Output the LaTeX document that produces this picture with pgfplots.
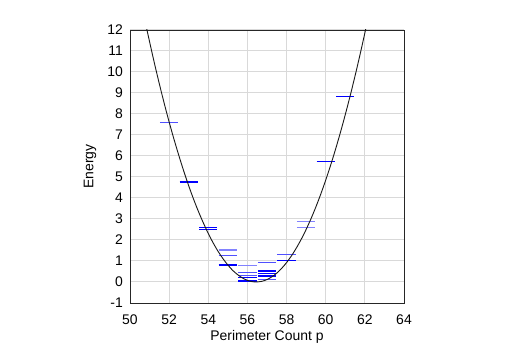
\documentclass[border=0pt]{standalone}
\usepackage{pgfplots}
\pgfplotsset{compat=1.18}
\usepackage{fontspec}
\setmainfont{Liberation Sans}

\definecolor{lvlblue}{RGB}{0,0,255}
\definecolor{midblue}{RGB}{80,80,255}
\definecolor{lightblue}{RGB}{130,130,255}

\begin{document}
\begin{tikzpicture}
\useasboundingbox (0,0) rectangle (510bp,355bp);
\begin{axis}[
    at={(130bp,52bp)}, anchor=south west,
    width=274bp, height=273bp, scale only axis,
    xmin=50, xmax=64, ymin=-1, ymax=12,
    xtick={50,52,...,64},
    ytick={-1,0,...,12},
    major tick length=0pt,
    grid=major,
    grid style={black!15, line width=1bp},
    axis line style={black!85, line width=0.9bp},
    font=\fontsize{14}{16}\selectfont,
    /pgf/number format/assume math mode=true,
    xticklabel style={anchor=north, inner sep=0pt, yshift=-12bp},
    yticklabel style={anchor=east, inner sep=0pt, xshift=-7bp},
    xlabel={Perimeter Count p},
    ylabel={Energy},
    xlabel style={at={(axis description cs:0.5,-0.1245)}, anchor=center},
    ylabel style={at={(axis description cs:-0.146,0.5)}, anchor=center},
    unbounded coords=jump,
    clip=true,
]

% light level dashes
\addplot[draw=lightblue, line width=1.3bp]
coordinates{
    (54.53,1.52) (55.47,1.52) (55,nan)
    (55.53,0.77) (56.47,0.77) (56,nan)
    (58.53,2.88) (59.47,2.88) (59,nan)
    (58.53,2.60) (59.47,2.60)
};

% medium level dashes
\addplot[draw=midblue, line width=1.3bp]
coordinates{
    (51.53,7.60) (52.47,7.60) (52,nan)
    (54.53,1.25) (55.47,1.25) (55,nan)
    (55.53,0.46) (56.47,0.46) (56,nan)
    (55.53,0.30) (56.47,0.30) (56,nan)
    (56.53,0.94) (57.47,0.94) (57,nan)
    (56.53,0.13) (57.47,0.13) (57,nan)
    (57.53,1.32) (58.47,1.32)
};

% plain level dashes
\addplot[draw=lvlblue, line width=1.1bp]
coordinates{
    (53.53,2.59) (54.47,2.59) (54,nan)
    (53.53,2.48) (54.47,2.48) (54,nan)
    (59.53,5.75) (60.47,5.75) (60,nan)
    (60.53,8.85) (61.47,8.85) (61,nan)
    (56.53,0.40) (57.47,0.40) (57,nan)
    (55.53,0.20) (56.47,0.20)
};

% strong level dashes
\addplot[draw=lvlblue, line width=1.8bp]
coordinates{
    (52.53,4.76) (53.47,4.76) (53,nan)
    (54.53,0.82) (55.47,0.82) (55,nan)
    (55.53,0.05) (56.47,0.05) (56,nan)
    (56.53,0.53) (57.47,0.53) (57,nan)
    (56.53,0.28) (57.47,0.28) (57,nan)
    (57.53,1.02) (58.47,1.02)
};

% fitted curve
\addplot[smooth, black!90, line width=0.9bp]
coordinates{
    (50.80,12.29) (51.00,11.44) (51.25,10.41) (51.50,9.43) (51.75,8.50)
    (52.00,7.62) (52.25,6.79) (52.50,6.01) (52.75,5.27) (53.00,4.58)
    (53.25,3.94) (53.50,3.35) (53.75,2.81) (54.00,2.31) (54.25,1.86)
    (54.50,1.46) (54.75,1.11) (55.00,0.81) (55.25,0.55) (55.50,0.35)
    (55.75,0.19) (56.00,0.078) (56.25,0.015) (56.45,0.0) (56.75,0.035)
    (57.00,0.116) (57.25,0.246) (57.50,0.424) (57.75,0.651) (58.00,0.925)
    (58.25,1.247) (58.50,1.618) (58.75,2.037) (59.00,2.503) (59.25,3.018)
    (59.50,3.581) (59.75,4.193) (60.00,4.852) (60.25,5.559) (60.50,6.315)
    (60.75,7.119) (61.00,7.971) (61.25,8.870) (61.50,9.819) (61.75,10.815)
    (62.00,11.859) (62.10,12.29)
};

\end{axis}
\end{tikzpicture}
\end{document}
